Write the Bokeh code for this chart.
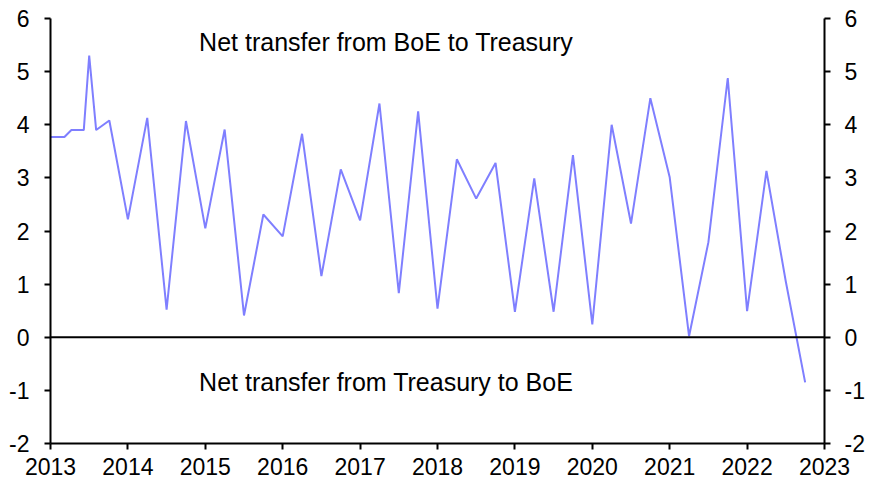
from bokeh.plotting import figure
from bokeh.models import Range1d, LinearAxis, FixedTicker, Span, Label
from bokeh.embed import file_html
from bokeh.resources import INLINE

# Dates as decimal years
dates = [2013.0, 2013.18, 2013.27, 2013.43, 2013.5, 2013.59, 2013.76,
         2014.0, 2014.25, 2014.5, 2014.75, 2015.0, 2015.25, 2015.5, 2015.75,
         2016.0, 2016.25, 2016.5, 2016.75, 2017.0, 2017.25, 2017.5, 2017.75,
         2018.0, 2018.25, 2018.5, 2018.75, 2019.0, 2019.25, 2019.5, 2019.75,
         2020.0, 2020.25, 2020.5, 2020.75, 2021.0, 2021.25, 2021.5, 2021.75,
         2022.0, 2022.25, 2022.5, 2022.75]
values = [3.77, 3.77, 3.9, 3.9, 5.3, 3.9, 4.08,
          2.22, 4.13, 0.52, 4.07, 2.05, 3.91, 0.41, 2.31,
          1.9, 3.83, 1.15, 3.16, 2.2, 4.4, 0.83, 4.25,
          0.54, 3.35, 2.61, 3.28, 0.48, 2.99, 0.48, 3.43,
          0.24, 4.0, 2.14, 4.5, 3.01, 0.02, 1.79, 4.88,
          0.49, 3.13, 1.05, -0.85]
year_ticks = [2013, 2014, 2015, 2016, 2017, 2018, 2019, 2020, 2021, 2022, 2023]
y_ticks = [-2, -1, 0, 1, 2, 3, 4, 5, 6]
label_top = "Net transfer from BoE to Treasury"
label_bottom = "Net transfer from Treasury to BoE"

FONT = "Liberation Sans"
FS = "23px"
FS_ANN = "25px"

p = figure(width=870, height=487, output_backend="svg", toolbar_location=None,
           x_range=Range1d(2013, 2023), y_range=Range1d(-2, 6),
           min_border_left=50, min_border_right=46, min_border_top=18,
           min_border_bottom=44)
p.outline_line_color = None
p.xgrid.visible = False
p.ygrid.visible = False
p.background_fill_color = "white"
p.border_fill_color = "white"

p.line(dates, values, line_color="#7f7fff", line_width=2)

p.add_layout(Span(location=0, dimension="width", line_color="black", line_width=2))

def style(ax):
    ax.axis_line_width = 2
    ax.axis_line_color = "black"
    ax.major_tick_line_width = 2
    ax.major_tick_line_color = "black"
    ax.major_tick_in = 0
    ax.major_tick_out = 6
    ax.minor_tick_line_color = None
    ax.major_label_text_font = FONT
    ax.major_label_text_font_size = FS
    ax.major_label_text_color = "black"

xa = p.xaxis[0]
style(xa)
xa.ticker = FixedTicker(ticks=year_ticks)
xa.major_label_overrides = {y: str(y) for y in year_ticks}
xa.major_label_standoff = 8

ylabels = {t: str(t) for t in y_ticks}

ya = p.yaxis[0]
style(ya)
ya.ticker = FixedTicker(ticks=y_ticks)
ya.major_label_overrides = ylabels
ya.major_label_standoff = 15

ra = LinearAxis(ticker=FixedTicker(ticks=y_ticks))
style(ra)
ra.major_label_overrides = ylabels
ra.major_label_standoff = 14
p.add_layout(ra, "right")

p.add_layout(Label(x=2014.92, y=5.55, text=label_top, text_font=FONT,
                   text_font_size=FS_ANN, text_color="black", text_baseline="middle"))
p.add_layout(Label(x=2014.92, y=-0.85, text=label_bottom, text_font=FONT,
                   text_font_size=FS_ANN, text_color="black", text_baseline="middle"))

open("out.html", "w").write(file_html(p, INLINE))
